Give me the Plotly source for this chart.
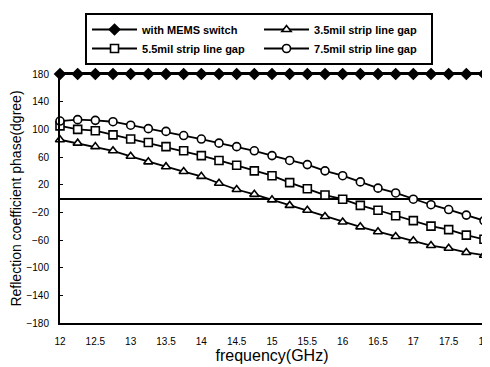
import plotly.graph_objects as go

freq = [12 + 0.25 * i for i in range(25)]

mems = [180] * 25
gap35 = [85, 80, 75, 69, 61, 53, 46, 39, 32, 22, 13, 6, -2, -10, -17, -26,
         -34, -41, -48, -55, -61, -68, -72, -78, -82]
gap55 = [105, 100, 98, 92, 86, 81, 75, 69, 62, 55, 48, 40, 33, 23, 14, 5,
         -1, -10, -17, -25, -32, -40, -45, -53, -59]
gap75 = [112, 114, 113, 111, 106, 101, 97, 91, 86, 80, 75, 69, 62, 55, 49, 40,
         33, 24, 15, 8, -1, -9, -16, -24, -32]

names = ["with MEMS switch", "3.5mil strip line gap",
         "5.5mil strip line gap", "7.5mil strip line gap"]
series = [mems, gap35, gap55, gap75]
symbols = ["diamond", "triangle-up", "square", "circle"]
fills = ["black", "white", "white", "white"]
sizes = [8, 8, 8, 8]

fig = go.Figure()
for n, s, sym, fc, sz in zip(names, series, symbols, fills, sizes):
    fig.add_trace(go.Scatter(
        x=freq, y=s, name=n, mode="lines+markers",
        line=dict(color="black", width=1.8),
        marker=dict(symbol=sym, size=sz, color=fc,
                    line=dict(color="black", width=1.6)),
        cliponaxis=False,
    ))

yticks = list(range(-180, 181, 40))

# page body has an 8px default margin, so the figure is 8px smaller
fig.update_layout(
    width=482, height=359,
    margin=dict(l=52, r=6, t=65, b=44),
    paper_bgcolor="white", plot_bgcolor="white",
    font=dict(family="Arial, Liberation Sans, sans-serif", color="black"),
    showlegend=True,
    legend=dict(
        orientation="h", x=0.059, y=1.24, xanchor="left", yanchor="top",
        bgcolor="white", bordercolor="black", borderwidth=2,
        font=dict(size=11, family="Arial, Liberation Sans", weight="bold"),
        entrywidth=112, entrywidthmode="pixels", itemwidth=45,
        traceorder="normal",
    ),
    xaxis=dict(
        range=[12, 18], dtick=0.5, tick0=12,
        showline=True, linecolor="black", linewidth=2, mirror=True,
        showgrid=False, zeroline=False, automargin=False,
        ticks="", ticklabelstandoff=8,
        tickfont=dict(size=10),
        title=dict(text="frequency(GHz)", font=dict(size=16), standoff=0),
    ),
    yaxis=dict(
        range=[-180, 180], tickvals=yticks,
        showline=True, linecolor="black", linewidth=2, mirror=True,
        showgrid=False, zeroline=True, zerolinecolor="black", zerolinewidth=2,
        automargin=False,
        ticks="inside", ticklen=3, tickcolor="black", ticklabelstandoff=7,
        tickfont=dict(size=10),
        title=dict(text="Reflection coefficient phase(dgree)", font=dict(size=14), standoff=6),
    ),
)

fig.write_html("out.html")
